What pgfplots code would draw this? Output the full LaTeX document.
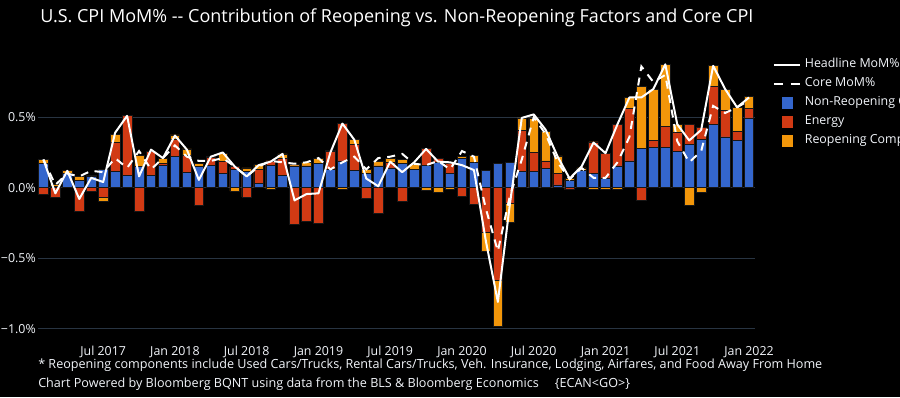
\documentclass[border=0pt]{standalone}
\usepackage{fontspec}
\setmainfont{Open Sans}
\usepackage{pgfplots}
\pgfplotsset{compat=1.18}
\usepackage{pgfplotstable}
\definecolor{nonre}{RGB}{52,102,204}
\definecolor{energy}{RGB}{209,58,20}
\definecolor{reopen}{RGB}{242,150,10}
\definecolor{gridc}{RGB}{40,52,66}
\definecolor{txt}{RGB}{242,245,250}
\definecolor{barline}{RGB}{22,22,22}

% i = month index (0 = Feb 2017 ... 59 = Jan 2022)
\pgfplotstableread{
i blue energy reopen headline core
0 0.17 -0.045 0.030 0.20 0.20
1 0.01 -0.067 0.015 -0.04 0.02
2 0.10 0.000 0.020 0.12 0.10
3 0.05 -0.165 0.030 -0.08 0.08
4 0.08 -0.025 0.010 0.07 0.12
5 0.13 -0.065 -0.035 0.04 0.11
6 0.115 0.205 0.060 0.39 0.21
7 0.09 0.420 0.000 0.51 0.14
8 0.15 -0.165 0.080 0.08 0.26
9 0.085 0.175 0.000 0.27 0.13
10 0.16 0.015 0.035 0.21 0.21
11 0.22 0.125 0.030 0.37 0.30
12 0.11 0.120 0.045 0.27 0.22
13 0.15 -0.125 0.025 0.055 0.19
14 0.16 0.055 0.005 0.22 0.19
15 0.10 0.085 0.060 0.25 0.21
16 0.13 0.020 -0.024 0.15 0.15
17 0.115 -0.065 0.025 0.08 0.08
18 0.028 0.100 0.035 0.16 0.15
19 0.16 0.030 -0.010 0.185 0.19
20 0.09 0.115 0.035 0.24 0.18
21 0.155 -0.260 0.010 -0.09 0.17
22 0.155 -0.240 0.025 -0.045 0.18
23 0.175 -0.250 0.030 -0.04 0.21
24 0.13 0.130 0.005 0.25 0.13
25 0.19 0.265 -0.010 0.455 0.18
26 0.12 0.190 0.035 0.34 0.22
27 0.10 -0.075 0.030 0.065 0.13
28 0.155 -0.180 0.030 0.01 0.21
29 0.14 0.040 0.025 0.185 0.22
30 0.175 -0.100 0.025 0.11 0.24
31 0.13 0.000 0.035 0.18 0.17
32 0.156 0.124 -0.017 0.275 0.16
33 0.18 0.030 -0.030 0.185 0.19
34 0.10 0.070 -0.012 0.18 0.13
35 0.21 -0.064 0.010 0.16 0.26
36 0.18 -0.116 0.050 0.125 0.22
37 0.12 -0.320 -0.130 -0.38 -0.15
38 0.17 -0.655 -0.325 -0.81 -0.45
39 0.177 -0.110 -0.135 -0.12 -0.06
40 0.115 0.290 0.090 0.495 0.20
41 0.115 0.135 0.245 0.52 0.50
42 0.135 0.055 0.210 0.41 0.38
43 0.02 0.080 0.125 0.22 0.18
44 0.05 -0.015 0.015 0.065 0.06
45 0.12 0.000 0.020 0.15 0.14
46 0.10 0.225 -0.010 0.32 0.07
47 0.07 0.175 -0.010 0.245 0.07
48 0.155 0.295 -0.012 0.45 0.18
49 0.19 0.370 0.080 0.64 0.36
50 0.28 -0.090 0.440 0.64 0.86
51 0.285 0.050 0.365 0.70 0.75
52 0.285 0.150 0.440 0.875 0.80
53 0.26 0.130 0.060 0.45 0.33
54 0.31 0.140 -0.125 0.335 0.18
55 0.345 0.085 -0.030 0.41 0.26
56 0.45 0.270 0.150 0.865 0.58
57 0.36 0.190 0.150 0.70 0.53
58 0.335 0.065 0.170 0.57 0.57
59 0.495 0.065 0.085 0.64 0.62
}\cpidata

\pgfplotsset{
  cpibar/.style={ybar, bar width=0.8, bar shift=0pt, draw=barline, line width=0.5pt, forget plot},
}

\begin{document}
\begin{tikzpicture}
\path[use as bounding box] (0,0) rectangle (675pt,-297.75pt);
\fill[black] (0,0) rectangle (675pt,-297.75pt);
\clip (0,0) rectangle (675pt,-297.75pt);
\begin{axis}[
  at={(28.5pt,-250.725pt)}, anchor=south west,
  scale only axis, width=537.75pt, height=208.275pt,
  xmin=-0.45, xmax=59.5, ymin=-1.04, ymax=0.93,
  axis line style={draw=none},
  major tick length=0pt,
  ymajorgrids, grid style={gridc, line width=0.75pt},
  xtick={5,11,17,23,29,35,41,47,53,59},
  xticklabels={Jul 2017,Jan 2018,Jul 2018,Jan 2019,Jul 2019,Jan 2020,Jul 2020,Jan 2021,Jul 2021,Jan 2022},
  ytick={-1,-0.5,0,0.5},
  yticklabels={−1.0\%,−0.5\%,0.0\%,0.5\%},
  tick label style={font=\fontsize{9.3}{10}\selectfont, text=txt},
  xticklabel style={anchor=north, inner sep=0pt, yshift=-9pt},
  yticklabel style={anchor=east, inner sep=0pt, xshift=-1.5pt},
  legend style={at={(1.025,0.993)}, anchor=north west, draw=none, fill=none,
    text=txt, font=\fontsize{9.3}{10}\selectfont, row sep=5.25pt, column sep=0pt,
    inner sep=0pt, outer sep=0pt,
    nodes={inner sep=0pt, text height=7pt, text depth=2pt}},
  legend cell align=left,
  clip=false,
]
% positive stack (drawn tallest first, overlaid)
\addplot[cpibar, fill=reopen] table[x=i, y expr={\thisrow{blue}+max(\thisrow{energy},0)+max(\thisrow{reopen},0)}]{\cpidata};
\addplot[cpibar, fill=energy] table[x=i, y expr={\thisrow{blue}+max(\thisrow{energy},0)}]{\cpidata};
\addplot[cpibar, fill=nonre] table[x=i, y=blue]{\cpidata};
% negative stack
\addplot[cpibar, fill=reopen] table[x=i, y expr={min(\thisrow{energy},0)+min(\thisrow{reopen},0)}]{\cpidata};
\addplot[cpibar, fill=energy] table[x=i, y expr={min(\thisrow{energy},0)}]{\cpidata};
% lines
\addplot[white, line width=1.5pt, mark=none, forget plot, line join=round] table[x=i, y=headline]{\cpidata};
\addplot[white, line width=1.5pt, mark=none, forget plot, dash pattern=on 6pt off 5pt] table[x=i, y=core]{\cpidata};
% legend
\addlegendimage{legend image code/.code={\path (0pt,0pt) (23pt,0pt); \draw[white, line width=1.5pt] (0pt,0pt) -- (19.5pt,0pt);}}
\addlegendentry{Headline MoM\%}
\addlegendimage{legend image code/.code={\path (0pt,0pt) (23pt,0pt); \draw[white, line width=1.5pt] (0pt,0pt) -- (7pt,0pt) (12.5pt,0pt) -- (19.5pt,0pt);}}
\addlegendentry{Core MoM\%}
\addlegendimage{legend image code/.code={\path (0pt,0pt) (23pt,0pt); \fill[nonre] (6pt,-4pt) rectangle (14pt,4pt);}}
\addlegendentry{Non-Reopening Components}
\addlegendimage{legend image code/.code={\path (0pt,0pt) (23pt,0pt); \fill[energy] (6pt,-4pt) rectangle (14pt,4pt);}}
\addlegendentry{Energy}
\addlegendimage{legend image code/.code={\path (0pt,0pt) (23pt,0pt); \fill[reopen] (6pt,-4pt) rectangle (14pt,4pt);}}
\addlegendentry{Reopening Components*}
\end{axis}
\begin{scope}[x=0.75pt, y=-0.75pt]
\node[anchor=west, text=white, inner sep=0pt, font=\fontsize{13.5pt}{15pt}\selectfont] at (40,18)
  {U.S. CPI MoM\% -{}- Contribution of Reopening vs. Non-Reopening Factors and Core CPI};
\node[anchor=west, text=txt, inner sep=0pt, font=\fontsize{9.45}{10}\selectfont] at (38,365)
  {* Reopening components include Used Cars/Trucks, Rental Cars/Trucks, Veh. Insurance, Lodging, Airfares, and Food Away From Home};
\node[anchor=west, text=txt, inner sep=0pt, font=\fontsize{9.45}{10}\selectfont] at (38,384)
  {Chart Powered by Bloomberg BQNT using data from the BLS \& Bloomberg Economics\hspace{12pt}\{ECAN<GO>\}};
\end{scope}
\end{tikzpicture}
\end{document}
